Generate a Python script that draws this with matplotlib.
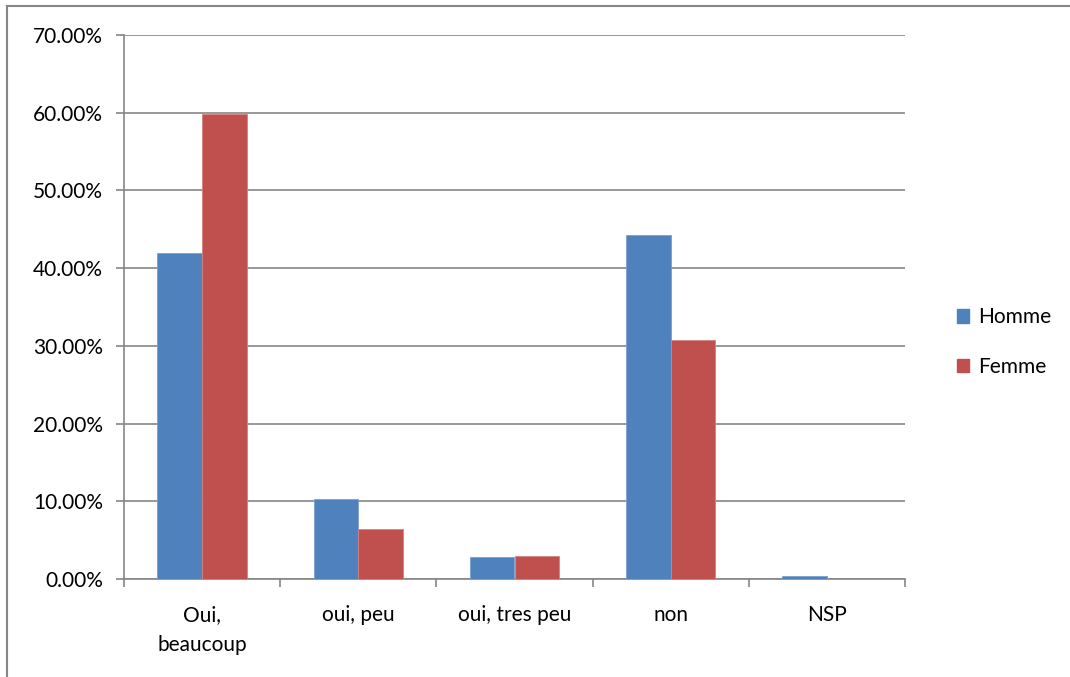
import matplotlib
matplotlib.use("Agg")
import matplotlib.pyplot as plt
import numpy as np
from matplotlib.lines import Line2D
from matplotlib.patches import Patch

categories = ["Oui,\nbeaucoup", "oui, peu", "oui, tres peu", "non", "NSP"]
homme = [41.93, 10.35, 2.79, 44.3, 0.4]
femme = [59.85, 6.4, 2.92, 30.7, 0.0]
series_names = ["Homme", "Femme"]
yticks = [0, 10, 20, 30, 40, 50, 60, 70]

plt.rcParams['font.family'] = ['Lato', 'DejaVu Sans']
W, H = 1070, 677
fs = 15
fig = plt.figure(figsize=(W/100, H/100), dpi=100)
ax = fig.add_axes([124/W, 1-579/H, (905-124)/W, (579-35)/H])

grey = "#868686"
blue = "#4F81BD"
red = "#C0504D"
n = len(categories)
x = np.arange(n)
w = 1/3.5
ax.bar(x - w/2, homme, width=w, color=blue, edgecolor="#7BA0CD", linewidth=0.6, zorder=3)
ax.bar(x + w/2, femme, width=w, color=red, edgecolor="#D38381", linewidth=0.6, zorder=3)

ax.set_xlim(-0.5, n-0.5)
ax.set_ylim(0, 70)
ax.set_yticks(yticks)
ax.set_yticklabels([f"{v:.2f}%" for v in yticks], fontsize=fs, color="#000000")
ax.yaxis.grid(True, color=grey, linewidth=1.2, zorder=0)
ax.set_axisbelow(True)

ax.set_xticks(np.arange(-0.5, n, 1))
ax.set_xticklabels([])
ax.set_xticks(x, minor=True)
ax.set_xticklabels(categories, minor=True, fontsize=fs, linespacing=1.6)
ax.tick_params(axis='x', which='minor', length=0, pad=19)
ax.tick_params(axis='x', which='major', length=6, width=1.2, color=grey, direction='out')
ax.tick_params(axis='y', length=6, width=1.2, color=grey, direction='out', pad=9)

for s in ["top", "right"]:
    ax.spines[s].set_visible(False)
for s in ["left", "bottom"]:
    ax.spines[s].set_color(grey)
    ax.spines[s].set_linewidth(1.2)

handles = [Patch(facecolor=blue, edgecolor=blue), Patch(facecolor=red, edgecolor=red)]
leg = fig.legend(handles, series_names, loc="center left",
                 bbox_to_anchor=(938/W, 1-342/H), frameon=False, fontsize=fs,
                 handlelength=0.6, handleheight=0.6, handletextpad=0.45, labelspacing=1.4)

# chart border (top and left)
fig.add_artist(Line2D([7/W, 1], [1-6/H, 1-6/H], color=grey, linewidth=1.5))
fig.add_artist(Line2D([7/W, 7/W], [0, 1-6/H], color=grey, linewidth=1.5))

fig.savefig("out.png", dpi=100, facecolor="white")
